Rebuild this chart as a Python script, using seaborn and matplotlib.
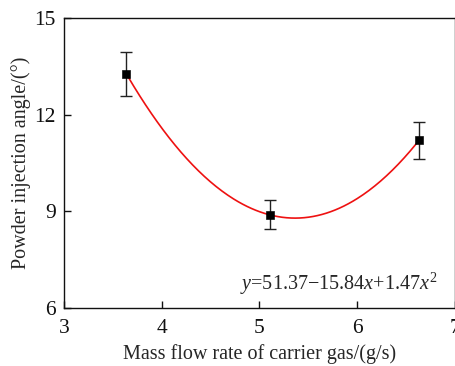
import numpy as np
import pandas as pd
import matplotlib
matplotlib.use('Agg')
import matplotlib.pyplot as plt
import seaborn as sns

# Values
flow_rate = [3.64, 5.11, 6.63]          # g/s
inj_angle = [13.26, 8.89, 11.20]        # degrees
angle_err = [0.68, 0.45, 0.57]
fit_label = '$y$=51.37\u221215.84$x$+1.47$x^{\\mathregular{2}}$'

sns.set_style('ticks')
plt.rcParams['font.family'] = ['Liberation Serif', 'DejaVu Serif']
plt.rcParams['mathtext.fontset'] = 'custom'
plt.rcParams['mathtext.it'] = 'Liberation Serif:italic'
plt.rcParams['mathtext.rm'] = 'Liberation Serif'

df = pd.DataFrame({'flow': flow_rate, 'angle': inj_angle, 'err': angle_err})

# quadratic fit through the measured points
coef = np.polyfit(df['flow'], df['angle'], 2)
xs = np.linspace(df['flow'].min(), df['flow'].max(), 200)
fit_df = pd.DataFrame({'flow': xs, 'angle': np.polyval(coef, xs)})

fig = plt.figure(figsize=(4.56, 3.66), dpi=100)
ax = fig.add_axes([0.140, 0.158, 0.858, 0.793])

sns.lineplot(data=fit_df, x='flow', y='angle', color='#ee1111', lw=1.2, ax=ax)
ax.errorbar(df['flow'], df['angle'], yerr=df['err'], fmt='none',
            ecolor='#222222', elinewidth=1.0, capsize=4, capthick=1.0, zorder=3)
sns.scatterplot(data=df, x='flow', y='angle', marker='s', s=30, color='black',
                edgecolor='black', ax=ax, zorder=4)

ax.set_xlim(3, 7)
ax.set_ylim(6, 15)
ax.set_xticks([3, 4, 5, 6, 7])
ax.set_yticks([6, 9, 12, 15])
ax.tick_params(direction='in', length=5, width=1.0, labelsize=15.5, colors='#111111',
               top=False, right=False)
ax.tick_params(axis='x', pad=8)
ax.tick_params(axis='y', pad=6)
for sp in ax.spines.values():
    sp.set_linewidth(1.0)
    sp.set_color('#111111')

ax.set_xlabel('Mass flow rate of carrier gas/(g/s)', fontsize=14.5, labelpad=4)
ax.set_ylabel('Powder injection angle/(\u00b0)', fontsize=14.5, labelpad=2)
ax.text(0.955, 0.085, fit_label, transform=ax.transAxes, ha='right', va='center',
        fontsize=14.5)

fig.savefig('out.png', dpi=100)
